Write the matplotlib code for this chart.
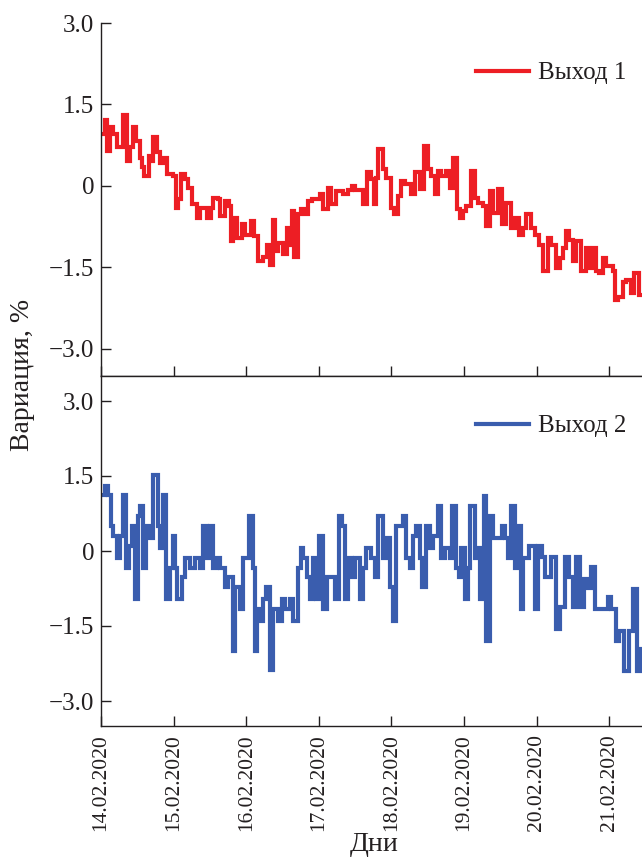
import matplotlib
matplotlib.use("Agg")
import matplotlib.pyplot as plt

# ---------------- data ----------------
# time in days from 14.02.2020 00:00, value in %
t1 = [0.000, 0.055, 0.087, 0.124, 0.170, 0.216, 0.307, 0.353, 0.399, 0.436,
      0.482, 0.537, 0.560, 0.592, 0.665, 0.697, 0.720, 0.766, 0.812, 0.858,
      0.913, 0.995, 1.032, 1.064, 1.096, 1.156, 1.202, 1.248, 1.317, 1.362,
      1.463, 1.509, 1.546, 1.615, 1.638, 1.706, 1.766, 1.784, 1.821, 1.867,
      1.936, 1.982, 2.060, 2.106, 2.165, 2.234, 2.280, 2.326, 2.372, 2.399,
      2.440, 2.509, 2.555, 2.592, 2.628, 2.656, 2.716, 2.761, 2.807, 2.853,
      2.899, 3.014, 3.060, 3.128, 3.174, 3.243, 3.330, 3.404, 3.450, 3.495,
      3.608, 3.663, 3.723, 3.755, 3.783, 3.815, 3.884, 3.929, 3.998, 4.030,
      4.090, 4.136, 4.182, 4.273, 4.319, 4.388, 4.443, 4.503, 4.548, 4.594,
      4.640, 4.686, 4.755, 4.801, 4.846, 4.901, 4.938, 4.984, 5.030, 5.099,
      5.144, 5.190, 5.259, 5.305, 5.351, 5.397, 5.465, 5.525, 5.580, 5.649,
      5.695, 5.763, 5.809, 5.855, 5.924, 5.970, 6.038, 6.084, 6.153, 6.199,
      6.268, 6.314, 6.359, 6.405, 6.451, 6.497, 6.543, 6.612, 6.680, 6.726,
      6.772, 6.818, 6.864, 6.910, 6.956, 7.047, 7.084, 7.116, 7.185, 7.231,
      7.299, 7.345, 7.414, 7.460]
v1 = [0.96, 1.22, 0.65, 1.08, 0.96, 0.71, 1.30, 0.46, 0.71, 1.08,
      0.83, 0.52, 0.34, 0.19, 0.56, 0.46, 0.90, 0.62, 0.43, 0.52,
      0.22, 0.19, -0.40, -0.25, 0.22, 0.12, -0.03, -0.34, -0.59, -0.40,
      -0.59, -0.40, -0.22, -0.25, -0.56, -0.28, -0.37, -1.02, -0.59, -0.96,
      -0.71, -0.90, -0.65, -0.93, -1.39, -1.30, -1.08, -1.45, -0.62, -1.20,
      -1.05, -1.25, -0.77, -1.08, -0.46, -1.30, -0.52, -0.43, -0.52, -0.28,
      -0.25, -0.15, -0.43, -0.03, -0.34, -0.09, -0.15, -0.08, 0.00, -0.08,
      -0.34, 0.25, 0.12, -0.34, 0.15, 0.68, 0.31, 0.15, -0.40, -0.52,
      -0.19, 0.09, 0.03, -0.15, 0.25, -0.06, 0.74, 0.31, 0.19, -0.15,
      0.28, 0.19, 0.28, -0.03, 0.52, -0.43, -0.59, -0.46, -0.37, 0.28,
      -0.22, -0.31, -0.37, -0.74, -0.09, -0.49, -0.06, -0.71, -0.31, -0.77,
      -0.59, -0.90, -0.77, -0.52, -0.77, -0.90, -1.08, -1.57, -0.96, -1.08,
      -1.51, -1.33, -1.14, -0.83, -0.99, -1.39, -1.02, -1.57, -1.14, -1.51,
      -1.14, -1.57, -1.60, -1.33, -1.48, -1.57, -2.10, -2.04, -1.76, -1.73,
      -1.98, -1.60, -2.00, -2.00]

t2 = [0.000, 0.055, 0.101, 0.138, 0.170, 0.216, 0.261, 0.307, 0.344, 0.390,
      0.422, 0.468, 0.514, 0.537, 0.577, 0.619, 0.665, 0.720, 0.789, 0.812,
      0.849, 0.894, 0.950, 0.986, 1.018, 1.050, 1.110, 1.156, 1.225, 1.294,
      1.362, 1.408, 1.454, 1.500, 1.546, 1.592, 1.638, 1.706, 1.752, 1.812,
      1.844, 1.913, 1.950, 2.041, 2.087, 2.119, 2.151, 2.197, 2.234, 2.271,
      2.326, 2.372, 2.440, 2.486, 2.532, 2.601, 2.647, 2.716, 2.748, 2.784,
      2.830, 2.876, 2.913, 2.959, 3.005, 3.060, 3.106, 3.225, 3.271, 3.317,
      3.362, 3.408, 3.454, 3.500, 3.560, 3.608, 3.654, 3.723, 3.769, 3.815,
      3.884, 3.929, 3.984, 4.021, 4.067, 4.159, 4.205, 4.250, 4.296, 4.342,
      4.388, 4.424, 4.479, 4.525, 4.571, 4.640, 4.686, 4.732, 4.801, 4.837,
      4.892, 4.929, 4.961, 5.007, 5.053, 5.085, 5.144, 5.190, 5.222, 5.268,
      5.305, 5.351, 5.397, 5.525, 5.557, 5.603, 5.649, 5.695, 5.740, 5.780,
      5.810, 5.892, 5.970, 6.016, 6.076, 6.121, 6.199, 6.259, 6.314, 6.383,
      6.442, 6.497, 6.543, 6.598, 6.658, 6.704, 6.750, 6.809, 6.979, 7.025,
      7.093, 7.139, 7.208, 7.277, 7.332, 7.378, 7.424, 7.460]
v2 = [1.12, 1.31, 1.12, 0.50, 0.31, -0.13, 0.31, 1.12, -0.33, 0.11,
      0.50, -0.96, 0.70, 0.90, -0.33, 0.50, 0.27, 1.53, 0.50, 0.07,
      1.12, -0.96, -0.33, 0.31, -0.33, -0.96, -0.52, -0.13, -0.33, -0.13,
      -0.33, 0.50, -0.13, 0.50, -0.33, -0.13, -0.33, -0.72, -0.52, -1.99,
      -0.72, -1.16, -0.13, 0.70, -0.33, -1.99, -1.16, -1.39, -0.96, -0.72,
      -2.38, -1.16, -1.39, -0.96, -1.16, -0.96, -1.39, -0.33, 0.07, -0.13,
      -0.52, -0.96, -0.13, -0.96, 0.31, -1.16, -0.52, -0.96, 0.70, 0.50,
      -0.96, -0.13, -0.52, -0.13, -0.96, -0.33, 0.07, -0.13, -0.52, 0.70,
      -0.13, 0.27, -0.72, -1.39, 0.50, 0.70, -0.13, -0.33, 0.31, 0.50,
      -0.13, -0.72, 0.50, 0.07, 0.31, 0.90, -0.13, 0.07, -0.13, 0.90,
      -0.33, -0.52, 0.07, -0.96, -0.33, 0.90, -0.13, 0.07, -0.96, 1.10,
      -1.79, 0.70, 0.27, 0.50, 0.27, -0.13, 0.90, -0.33, 0.50, -1.16,
      -0.13, 0.10, -1.16, 0.10, -0.12, -0.52, -0.12, -1.55, -1.12, -0.12,
      -0.52, -1.12, -0.12, -1.12, -0.55, -0.74, -0.32, -1.16, -0.92, -1.16,
      -1.79, -1.59, -2.39, -1.59, -0.76, -2.39, -1.95, -1.95]

day_ticks = [0, 1, 2, 3, 4, 5, 6, 7]
day_labels = ["14.02.2020", "15.02.2020", "16.02.2020", "17.02.2020",
              "18.02.2020", "19.02.2020", "20.02.2020", "21.02.2020"]
y_ticks = [3.0, 1.5, 0.0, -1.5, -3.0]
y_labels = ["3.0", "1.5", "0", "\u22121.5", "\u22123.0"]

# ---------------- figure ----------------
plt.rcParams['font.family'] = ['Liberation Serif', 'DejaVu Serif']
plt.rcParams['axes.linewidth'] = 1.0

W, H = 642, 857
fig = plt.figure(figsize=(W / 100, H / 100), dpi=100)
left = 101 / W
ax1 = fig.add_axes([left, 1 - 376 / H, 1.0 - left, (376 - 23) / H])
ax2 = fig.add_axes([left, 1 - 726 / H, 1.0 - left, (726 - 376) / H])

red = "#ED1E24"
blue = "#3A5DAE"
ax1.step(t1, v1, where='post', color=red, lw=3.0, label="Выход 1",
         solid_joinstyle='miter')
ax2.step(t2, v2, where='post', color=blue, lw=3.0, label="Выход 2",
         solid_joinstyle='miter')

xmax = 7.45
for ax in (ax1, ax2):
    ax.set_xlim(0, xmax)
    ax.set_xticks(day_ticks)
    ax.set_yticks(y_ticks)
    ax.set_yticklabels(y_labels, fontsize=18)
    ax.tick_params(axis='both', direction='in', length=7, width=1.0,
                   colors='#231F20')
    ax.tick_params(axis='y', pad=5)
    ax.spines['right'].set_visible(False)
    for s in ax.spines.values():
        s.set_color('#231F20')

ax1.set_ylim(-3.5, 3.0)
ax2.set_ylim(-3.5, 3.5)
ax1.spines['top'].set_visible(False)
ax1.tick_params(axis='x', labelbottom=False)
ax2.set_xticklabels(day_labels, rotation=90, fontsize=15.5)
ax2.tick_params(axis='x', pad=6)

fig.text(374 / W, 1 - 851 / H, "Дни", fontsize=20, ha='center',
         va='baseline', color='#231F20')
fig.text(23 / W, 1 - 375 / H, "Вариация, %", rotation=90, fontsize=20,
         ha='center', va='center', color='#231F20')

for ax, yy in ((ax1, 73), (ax2, 426)):
    ax.legend(loc='center right', bbox_to_anchor=(626 / W, 1 - yy / H),
              bbox_transform=fig.transFigure, frameon=False, fontsize=18,
              handlelength=2.1, handletextpad=0.35, borderpad=0,
              borderaxespad=0, labelcolor='#231F20')

fig.savefig("out.png", dpi=100)
